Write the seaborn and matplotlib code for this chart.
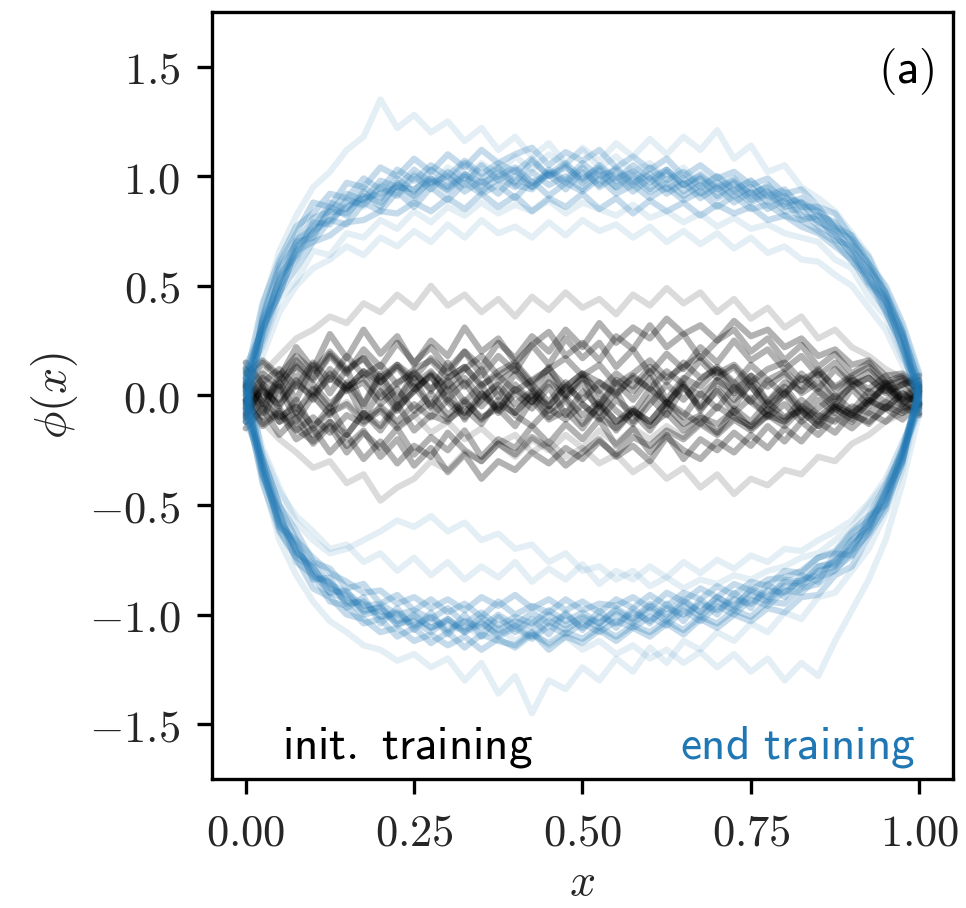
import numpy as np
import pandas as pd
import seaborn as sns
import matplotlib.pyplot as plt
from matplotlib.ticker import FuncFormatter

# grid of x positions shared by every sample path
x_grid = [0.000, 0.025, 0.050, 0.075, 0.100, 0.125, 0.150, 0.175, 0.200, 0.225,
          0.250, 0.275, 0.300, 0.325, 0.350, 0.375, 0.400, 0.425, 0.450, 0.475,
          0.500, 0.525, 0.550, 0.575, 0.600, 0.625, 0.650, 0.675, 0.700, 0.725,
          0.750, 0.775, 0.800, 0.825, 0.850, 0.875, 0.900, 0.925, 0.950, 0.975, 1.000]

# samples at the start of training (black)
init_runs = [
    [0.05, -0.08, 0.10, -0.02, 0.14, 0.01, 0.12, -0.05, 0.09, -0.03,
     0.11, 0.02, 0.15, 0.04, 0.12, -0.01, 0.10, 0.03, 0.13, 0.00,
     0.09, -0.04, 0.07, 0.02, 0.11, -0.02, 0.08, 0.04, 0.12, 0.01,
     0.09, -0.03, 0.06, 0.02, 0.10, -0.01, 0.07, 0.03, 0.09, -0.02, 0.04],
    [-0.10, 0.04, -0.12, -0.02, -0.15, -0.05, -0.18, -0.08, -0.14, -0.04,
     -0.16, -0.09, -0.12, -0.03, -0.10, -0.06, -0.14, -0.02, -0.11, -0.07,
     -0.15, -0.04, -0.12, -0.08, -0.16, -0.05, -0.13, -0.09, -0.17, -0.06,
     -0.12, -0.03, -0.10, -0.07, -0.14, -0.05, -0.09, -0.12, -0.06, -0.11, -0.03],
    [0.03, 0.10, 0.18, 0.26, 0.30, 0.36, 0.33, 0.42, 0.38, 0.46,
     0.40, 0.50, 0.41, 0.46, 0.38, 0.44, 0.36, 0.45, 0.39, 0.47,
     0.40, 0.44, 0.37, 0.46, 0.41, 0.49, 0.42, 0.47, 0.38, 0.44,
     0.35, 0.40, 0.31, 0.36, 0.26, 0.30, 0.22, 0.18, 0.12, 0.08, 0.02],
    [-0.05, -0.12, -0.20, -0.26, -0.33, -0.30, -0.40, -0.36, -0.48, -0.42,
     -0.38, -0.30, -0.34, -0.26, -0.30, -0.22, -0.28, -0.20, -0.25, -0.18,
     -0.24, -0.16, -0.22, -0.15, -0.20, -0.14, -0.19, -0.12, -0.17, -0.10,
     -0.14, -0.08, -0.12, -0.06, -0.10, -0.04, -0.08, -0.03, -0.06, -0.02, 0.01],
    [0.08, -0.02, 0.04, -0.06, 0.00, -0.08, -0.03, -0.10, -0.06, -0.14,
     -0.09, -0.17, -0.12, -0.20, -0.15, -0.22, -0.18, -0.26, -0.21, -0.28,
     -0.24, -0.31, -0.27, -0.35, -0.30, -0.38, -0.33, -0.42, -0.36, -0.45,
     -0.38, -0.41, -0.34, -0.36, -0.28, -0.30, -0.22, -0.18, -0.12, -0.08, 0.03],
    [-0.03, 0.08, 0.02, 0.14, 0.07, 0.18, 0.10, 0.21, 0.13, 0.24,
     0.15, 0.22, 0.12, 0.20, 0.09, 0.18, 0.11, 0.23, 0.14, 0.26,
     0.17, 0.24, 0.13, 0.21, 0.10, 0.19, 0.12, 0.22, 0.15, 0.25,
     0.16, 0.21, 0.12, 0.18, 0.09, 0.15, 0.06, 0.11, 0.04, 0.07, -0.01],
    [0.12, -0.04, 0.06, -0.08, 0.03, -0.06, 0.05, -0.10, 0.02, -0.07,
     0.04, -0.05, 0.07, -0.03, 0.05, -0.08, 0.01, -0.06, 0.04, -0.09,
     0.02, -0.05, 0.06, -0.02, 0.08, -0.04, 0.05, -0.07, 0.03, -0.05,
     0.06, -0.03, 0.04, -0.06, 0.02, -0.04, 0.05, -0.02, 0.03, -0.05, -0.06],
    [-0.15, -0.06, -0.18, -0.10, -0.22, -0.14, -0.26, -0.17, -0.24, -0.15,
     -0.27, -0.19, -0.25, -0.16, -0.28, -0.20, -0.24, -0.14, -0.22, -0.13,
     -0.20, -0.11, -0.23, -0.15, -0.26, -0.18, -0.29, -0.20, -0.25, -0.17,
     -0.23, -0.14, -0.21, -0.12, -0.18, -0.10, -0.15, -0.08, -0.12, -0.05, -0.09],
    [0.00, 0.10, 0.04, 0.16, 0.08, 0.19, 0.11, 0.17, 0.06, 0.13,
     0.03, 0.09, -0.02, 0.06, -0.05, 0.03, -0.08, 0.00, -0.10, -0.02,
     -0.13, -0.05, -0.16, -0.07, -0.12, -0.03, -0.10, 0.01, -0.06, 0.04,
     -0.03, 0.07, 0.00, 0.10, 0.03, 0.12, 0.05, 0.08, 0.02, 0.05, 0.07],
    [-0.06, 0.02, -0.04, 0.05, 0.00, 0.08, 0.03, 0.11, 0.06, 0.14,
     0.08, 0.17, 0.10, 0.20, 0.13, 0.24, 0.17, 0.27, 0.20, 0.30,
     0.22, 0.33, 0.24, 0.31, 0.26, 0.35, 0.28, 0.32, 0.25, 0.34,
     0.27, 0.30, 0.22, 0.26, 0.18, 0.21, 0.14, 0.16, 0.09, 0.10, 0.04],
    [0.04, -0.05, -0.12, -0.08, -0.18, -0.12, -0.23, -0.16, -0.28, -0.20,
     -0.32, -0.24, -0.35, -0.27, -0.38, -0.30, -0.34, -0.26, -0.31, -0.24,
     -0.29, -0.21, -0.27, -0.19, -0.23, -0.16, -0.20, -0.13, -0.18, -0.11,
     -0.16, -0.09, -0.14, -0.06, -0.12, -0.05, -0.09, -0.02, -0.06, 0.01, -0.04],
    [-0.09, 0.05, -0.02, 0.09, 0.01, 0.12, 0.04, 0.08, -0.01, 0.06,
     0.10, 0.03, 0.08, 0.13, 0.05, 0.09, 0.02, 0.07, 0.12, 0.04,
     0.10, 0.06, 0.01, 0.08, 0.03, 0.11, 0.05, 0.00, 0.07, 0.02,
     0.09, 0.04, 0.10, 0.01, 0.06, -0.02, 0.04, 0.08, 0.01, 0.05, 0.09],
    [0.02, -0.10, 0.04, -0.12, 0.00, -0.09, 0.06, -0.04, 0.10, -0.02,
     0.08, -0.06, 0.03, -0.11, 0.01, -0.07, 0.05, -0.03, 0.09, -0.01,
     0.06, -0.08, 0.02, -0.12, -0.01, -0.09, 0.04, -0.05, 0.07, -0.02,
     0.05, -0.07, 0.01, -0.10, -0.02, -0.08, 0.03, -0.05, 0.06, -0.03, 0.00],
    [-0.04, 0.06, 0.12, 0.04, 0.15, 0.07, 0.18, 0.09, 0.14, 0.05,
     0.12, 0.16, 0.08, 0.13, 0.04, 0.11, 0.15, 0.06, 0.12, 0.17,
     0.09, 0.14, 0.05, 0.10, 0.16, 0.08, 0.13, 0.18, 0.10, 0.14,
     0.06, 0.12, 0.15, 0.07, 0.11, 0.04, 0.09, 0.13, 0.05, 0.08, 0.03],
    [0.06, -0.03, -0.10, -0.05, -0.14, -0.08, -0.04, -0.12, -0.07, -0.15,
     -0.09, -0.03, -0.11, -0.06, -0.13, -0.02, -0.09, -0.14, -0.06, -0.11,
     -0.04, -0.10, -0.15, -0.07, -0.12, -0.03, -0.08, -0.13, -0.05, -0.10,
     -0.14, -0.06, -0.11, -0.02, -0.09, -0.12, -0.05, -0.08, -0.03, -0.07, 0.02],
    [-0.12, -0.02, 0.07, 0.13, 0.05, -0.04, 0.03, 0.11, 0.04, -0.06,
     0.02, 0.09, -0.03, -0.10, -0.02, 0.06, 0.12, 0.03, -0.05, 0.04,
     0.10, 0.01, -0.07, -0.13, -0.04, 0.05, -0.02, 0.07, 0.13, 0.06,
     -0.03, -0.09, 0.01, 0.08, 0.02, -0.06, -0.11, -0.03, 0.04, -0.02, -0.08],
    [-0.02, -0.14, -0.08, -0.16, -0.10, -0.17, -0.09, -0.13, -0.05, -0.12,
     -0.04, -0.10, -0.02, -0.08, 0.01, -0.06, 0.03, -0.03, 0.06, 0.00,
     0.08, 0.02, 0.10, 0.04, 0.13, 0.06, 0.15, 0.08, 0.12, 0.05,
     0.14, 0.07, 0.11, 0.04, 0.12, 0.03, 0.08, 0.01, 0.06, -0.01, 0.05],
    [0.10, 0.16, 0.09, 0.18, 0.11, 0.20, 0.12, 0.17, 0.08, 0.14,
     0.05, 0.11, 0.02, 0.08, -0.01, 0.05, -0.04, 0.02, -0.07, -0.01,
     -0.09, -0.03, -0.12, -0.06, -0.14, -0.08, -0.16, -0.10, -0.13, -0.07,
     -0.15, -0.09, -0.12, -0.05, -0.10, -0.04, -0.08, -0.02, -0.06, 0.01, -0.04],
    [0.15, 0.05, -0.06, -0.15, -0.21, -0.12, -0.18, -0.08, -0.16, -0.05,
     0.02, 0.10, 0.04, 0.12, 0.18, 0.09, 0.14, 0.05, -0.03, 0.06,
     -0.04, -0.11, -0.02, -0.08, 0.03, -0.05, 0.07, 0.16, 0.08, 0.13,
     0.04, -0.05, 0.02, -0.07, -0.14, -0.06, -0.12, -0.03, 0.05, -0.04, 0.01],
    [-0.08, 0.03, -0.05, 0.07, -0.02, 0.10, 0.02, 0.06, -0.04, 0.03,
     -0.07, 0.01, -0.09, -0.02, -0.11, -0.04, -0.08, 0.01, -0.05, 0.04,
     -0.02, 0.06, 0.00, 0.09, 0.03, -0.03, 0.04, -0.06, 0.02, -0.08,
     -0.01, -0.10, -0.04, -0.12, -0.06, 0.00, -0.07, 0.02, -0.03, 0.05, -0.05],
    [0.04, 0.15, 0.08, 0.22, 0.12, 0.28, 0.17, 0.30, 0.19, 0.27,
     0.14, 0.25, 0.18, 0.31, 0.20, 0.26, 0.15, 0.23, 0.29, 0.18,
     0.24, 0.16, 0.27, 0.21, 0.32, 0.22, 0.28, 0.17, 0.25, 0.30,
     0.20, 0.26, 0.16, 0.23, 0.13, 0.19, 0.10, 0.15, 0.06, 0.09, 0.02],
    [-0.02, -0.13, -0.07, -0.20, -0.15, -0.26, -0.18, -0.29, -0.21, -0.31,
     -0.23, -0.28, -0.17, -0.25, -0.30, -0.22, -0.27, -0.19, -0.24, -0.32,
     -0.26, -0.20, -0.28, -0.23, -0.30, -0.19, -0.25, -0.29, -0.21, -0.26,
     -0.18, -0.24, -0.15, -0.21, -0.12, -0.17, -0.08, -0.13, -0.05, -0.08, -0.04],
]

# samples at the end of training (blue), upper and lower branches
end_runs = [
    [0.05, 0.33, 0.49, 0.70, 0.72, 0.86, 0.82, 0.93, 0.86, 0.97,
     0.90, 0.99, 0.93, 1.01, 0.95, 1.03, 0.96, 0.94, 1.02, 0.97,
     1.04, 0.95, 1.00, 0.93, 0.99, 0.92, 0.97, 0.90, 0.95, 0.88,
     0.93, 0.85, 0.89, 0.80, 0.82, 0.71, 0.68, 0.52, 0.45, 0.21, 0.03],
    [-0.08, 0.36, 0.60, 0.74, 0.88, 0.86, 0.97, 0.95, 1.04, 1.00,
     1.08, 1.02, 1.10, 1.04, 1.12, 1.06, 1.10, 1.13, 1.05, 1.11,
     1.07, 1.12, 1.04, 1.09, 1.03, 1.08, 1.00, 1.05, 0.99, 1.02,
     0.96, 0.99, 0.92, 0.94, 0.86, 0.83, 0.72, 0.63, 0.46, 0.29, -0.04],
    [0.10, 0.22, 0.44, 0.52, 0.66, 0.64, 0.74, 0.72, 0.80, 0.76,
     0.84, 0.79, 0.86, 0.82, 0.88, 0.83, 0.87, 0.84, 0.89, 0.83,
     0.88, 0.85, 0.82, 0.87, 0.81, 0.84, 0.79, 0.83, 0.77, 0.81,
     0.76, 0.78, 0.74, 0.72, 0.70, 0.62, 0.58, 0.45, 0.36, 0.17, 0.06],
    [0.02, 0.40, 0.66, 0.82, 0.95, 1.02, 1.12, 1.18, 1.35, 1.22,
     1.28, 1.20, 1.25, 1.16, 1.22, 1.12, 1.18, 1.09, 1.15, 1.06,
     1.12, 1.04, 1.09, 1.02, 1.06, 0.98, 1.04, 0.96, 1.00, 0.93,
     0.98, 0.90, 0.93, 0.86, 0.84, 0.78, 0.70, 0.58, 0.47, 0.26, 0.01],
    [-0.05, 0.18, 0.38, 0.50, 0.58, 0.62, 0.68, 0.64, 0.72, 0.68,
     0.75, 0.70, 0.78, 0.72, 0.80, 0.74, 0.77, 0.72, 0.79, 0.73,
     0.80, 0.75, 0.78, 0.72, 0.77, 0.70, 0.75, 0.69, 0.74, 0.67,
     0.72, 0.65, 0.68, 0.62, 0.61, 0.55, 0.50, 0.40, 0.30, 0.14, -0.02],
    [0.12, 0.26, 0.50, 0.62, 0.78, 0.80, 0.90, 0.86, 0.96, 0.92,
     1.01, 0.96, 1.04, 0.99, 1.06, 1.01, 1.09, 1.03, 1.10, 1.05,
     1.13, 1.07, 1.15, 1.09, 1.17, 1.10, 1.18, 1.12, 1.21, 1.08,
     1.14, 1.02, 1.05, 0.95, 0.90, 0.84, 0.74, 0.64, 0.48, 0.31, 0.08],
    [-0.12, 0.30, 0.47, 0.66, 0.70, 0.80, 0.78, 0.88, 0.84, 0.93,
     0.86, 0.95, 0.89, 0.97, 0.92, 0.96, 0.90, 0.98, 0.91, 0.97,
     0.93, 0.99, 0.92, 0.96, 0.90, 0.95, 0.89, 0.93, 0.86, 0.91,
     0.85, 0.87, 0.82, 0.80, 0.75, 0.70, 0.61, 0.54, 0.38, 0.23, -0.06],
    [0.07, 0.42, 0.62, 0.77, 0.83, 0.92, 0.90, 0.99, 0.94, 1.03,
     0.98, 1.05, 1.00, 1.07, 1.01, 1.06, 1.02, 1.08, 1.00, 1.04,
     0.98, 1.05, 0.99, 1.02, 0.97, 1.03, 0.96, 1.00, 0.94, 0.98,
     0.92, 0.95, 0.90, 0.88, 0.84, 0.77, 0.73, 0.60, 0.50, 0.33, 0.10],
    [-0.03, 0.28, 0.55, 0.64, 0.79, 0.78, 0.89, 0.87, 0.95, 0.91,
     1.00, 0.94, 1.02, 0.96, 1.05, 0.98, 1.03, 0.95, 1.01, 0.94,
     1.02, 0.96, 1.04, 0.97, 1.01, 0.94, 0.99, 0.92, 0.97, 0.91,
     0.95, 0.88, 0.91, 0.82, 0.80, 0.74, 0.64, 0.55, 0.40, 0.26, -0.02],
    [0.08, 0.31, 0.46, 0.68, 0.74, 0.84, 0.83, 0.91, 0.88, 0.96,
     0.91, 0.98, 0.94, 1.00, 0.93, 0.99, 0.95, 1.02, 0.96, 1.00,
     0.94, 1.01, 0.95, 0.99, 0.93, 0.97, 0.91, 0.96, 0.90, 0.94,
     0.88, 0.92, 0.84, 0.85, 0.77, 0.73, 0.65, 0.51, 0.43, 0.22, 0.04],
    [0.00, 0.34, 0.52, 0.71, 0.76, 0.88, 0.85, 0.95, 0.90, 0.99,
     0.93, 1.03, 0.97, 1.06, 0.99, 1.04, 0.97, 1.07, 1.00, 1.05,
     0.97, 1.03, 0.95, 1.01, 0.94, 1.02, 0.93, 0.99, 0.91, 0.97,
     0.89, 0.93, 0.86, 0.88, 0.79, 0.76, 0.66, 0.57, 0.43, 0.27, 0.02],
    [0.04, 0.25, 0.47, 0.58, 0.70, 0.73, 0.79, 0.80, 0.84, 0.83,
     0.88, 0.84, 0.90, 0.85, 0.92, 0.86, 0.91, 0.84, 0.90, 0.86,
     0.92, 0.85, 0.90, 0.83, 0.89, 0.84, 0.88, 0.82, 0.87, 0.83,
     0.86, 0.80, 0.82, 0.77, 0.74, 0.68, 0.62, 0.50, 0.39, 0.20, -0.03],
    [-0.06, 0.35, 0.58, 0.69, 0.81, 0.84, 0.92, 0.89, 0.98, 0.95,
     1.03, 0.97, 1.00, 0.93, 0.98, 0.92, 1.00, 0.95, 1.03, 0.98,
     1.06, 1.00, 1.03, 0.96, 1.04, 0.98, 1.02, 0.95, 1.00, 0.94,
     0.98, 0.91, 0.94, 0.86, 0.86, 0.76, 0.71, 0.58, 0.47, 0.29, 0.05],
    [0.13, 0.30, 0.53, 0.63, 0.75, 0.80, 0.86, 0.90, 0.92, 0.95,
     0.94, 0.99, 0.95, 1.01, 0.97, 1.00, 1.04, 0.97, 1.01, 1.06,
     0.99, 1.04, 0.98, 1.05, 0.99, 1.03, 0.96, 1.01, 0.95, 0.99,
     0.91, 0.96, 0.87, 0.90, 0.82, 0.79, 0.69, 0.60, 0.44, 0.28, 0.06],
    [-0.04, -0.30, -0.60, -0.66, -0.84, -0.83, -0.97, -0.92, -1.04, -0.97,
     -1.07, -0.99, -1.09, -1.00, -1.10, -1.01, -1.08, -1.02, -1.09, -0.99,
     -1.07, -0.98, -1.06, -0.97, -1.04, -0.95, -1.03, -0.93, -1.00, -0.90,
     -0.97, -0.86, -0.92, -0.82, -0.85, -0.72, -0.73, -0.55, -0.50, -0.25, 0.03],
    [0.06, -0.38, -0.66, -0.82, -0.94, -1.03, -1.08, -1.14, -1.16, -1.21,
     -1.18, -1.24, -1.20, -1.30, -1.22, -1.36, -1.28, -1.45, -1.30, -1.34,
     -1.24, -1.30, -1.20, -1.26, -1.15, -1.22, -1.12, -1.16, -1.08, -1.12,
     -1.04, -1.08, -0.99, -1.02, -0.92, -0.90, -0.80, -0.70, -0.54, -0.34, -0.02],
    [-0.10, -0.26, -0.44, -0.55, -0.62, -0.70, -0.68, -0.76, -0.72, -0.80,
     -0.74, -0.82, -0.76, -0.84, -0.78, -0.83, -0.76, -0.85, -0.79, -0.84,
     -0.77, -0.86, -0.80, -0.84, -0.78, -0.83, -0.76, -0.81, -0.75, -0.79,
     -0.73, -0.76, -0.70, -0.71, -0.66, -0.62, -0.57, -0.49, -0.38, -0.22, -0.05],
    [0.02, -0.36, -0.54, -0.76, -0.82, -0.94, -0.96, -1.04, -1.02, -1.10,
     -1.06, -1.13, -1.08, -1.15, -1.09, -1.12, -1.14, -1.08, -1.16, -1.10,
     -1.13, -1.07, -1.12, -1.06, -1.10, -1.04, -1.09, -1.02, -1.06, -1.00,
     -1.03, -0.97, -0.99, -0.92, -0.91, -0.82, -0.78, -0.64, -0.52, -0.30, 0.05],
    [0.11, -0.28, -0.50, -0.62, -0.76, -0.79, -0.88, -0.86, -0.95, -0.91,
     -0.98, -0.93, -0.99, -0.95, -1.01, -0.94, -1.00, -0.96, -0.99, -0.93,
     -0.98, -0.95, -0.96, -0.92, -0.97, -0.90, -0.94, -0.88, -0.92, -0.86,
     -0.89, -0.84, -0.83, -0.80, -0.74, -0.71, -0.62, -0.55, -0.41, -0.26, 0.02],
    [-0.07, -0.34, -0.58, -0.70, -0.82, -0.86, -0.94, -0.95, -1.01, -1.00,
     -1.06, -1.03, -1.08, -1.05, -1.10, -1.06, -1.12, -1.08, -1.14, -1.10,
     -1.16, -1.12, -1.18, -1.14, -1.20, -1.16, -1.22, -1.17, -1.24, -1.18,
     -1.26, -1.20, -1.30, -1.22, -1.28, -1.12, -0.98, -0.84, -0.66, -0.40, -0.08],
    [0.04, -0.24, -0.42, -0.58, -0.66, -0.72, -0.70, -0.66, -0.62, -0.57,
     -0.60, -0.55, -0.62, -0.58, -0.66, -0.63, -0.70, -0.68, -0.76, -0.72,
     -0.80, -0.78, -0.84, -0.80, -0.87, -0.83, -0.88, -0.84, -0.86, -0.82,
     -0.84, -0.80, -0.78, -0.74, -0.72, -0.66, -0.60, -0.50, -0.40, -0.21, -0.04],
    [-0.02, -0.40, -0.62, -0.74, -0.78, -0.90, -0.89, -0.99, -0.96, -1.05,
     -1.00, -1.06, -1.02, -1.08, -1.01, -1.07, -1.03, -1.06, -1.00, -1.05,
     -1.01, -1.04, -0.98, -1.03, -0.96, -1.02, -0.94, -0.99, -0.92, -0.96,
     -0.89, -0.93, -0.85, -0.86, -0.78, -0.77, -0.66, -0.60, -0.44, -0.30, -0.01],
    [0.03, -0.32, -0.55, -0.71, -0.79, -0.88, -0.91, -0.98, -0.97, -1.03,
     -1.01, -1.06, -1.03, -1.08, -1.04, -1.09, -1.05, -1.10, -1.03, -1.07,
     -1.02, -1.06, -1.00, -1.04, -0.98, -1.03, -0.96, -1.01, -0.94, -0.98,
     -0.91, -0.94, -0.87, -0.87, -0.80, -0.78, -0.68, -0.61, -0.45, -0.28, 0.01],
    [-0.06, -0.37, -0.57, -0.68, -0.83, -0.85, -0.95, -0.94, -1.01, -0.99,
     -1.05, -1.01, -1.07, -1.03, -1.06, -1.00, -1.05, -0.99, -1.04, -1.00,
     -1.06, -1.01, -1.04, -0.99, -1.03, -0.97, -1.00, -0.95, -0.98, -0.93,
     -0.95, -0.89, -0.90, -0.84, -0.82, -0.75, -0.70, -0.58, -0.47, -0.27, -0.03],
    [0.08, -0.33, -0.61, -0.74, -0.88, -0.92, -1.00, -1.02, -1.08, -1.06,
     -1.12, -1.09, -1.14, -1.10, -1.16, -1.11, -1.15, -1.09, -1.13, -1.08,
     -1.11, -1.06, -1.10, -1.05, -1.08, -1.03, -1.07, -1.01, -1.04, -0.98,
     -1.01, -0.94, -0.95, -0.88, -0.86, -0.79, -0.73, -0.62, -0.50, -0.31, 0.04],
    [-0.09, -0.29, -0.50, -0.66, -0.74, -0.81, -0.85, -0.90, -0.89, -0.95,
     -0.92, -0.97, -0.93, -0.98, -0.92, -0.96, -0.91, -0.97, -0.93, -0.98,
     -0.94, -0.99, -0.93, -0.97, -0.91, -0.96, -0.90, -0.93, -0.87, -0.91,
     -0.85, -0.87, -0.80, -0.81, -0.74, -0.72, -0.63, -0.57, -0.43, -0.24, 0.00],
    [0.01, -0.35, -0.59, -0.69, -0.81, -0.90, -0.93, -1.00, -0.98, -1.04,
     -1.03, -1.08, -1.02, -1.07, -1.03, -1.10, -1.06, -1.11, -1.05, -1.09,
     -1.04, -1.08, -1.03, -1.06, -1.01, -1.05, -0.98, -1.03, -0.96, -1.00,
     -0.93, -0.96, -0.89, -0.90, -0.83, -0.80, -0.71, -0.63, -0.48, -0.29, 0.06],
    [-0.11, -0.31, -0.53, -0.72, -0.77, -0.86, -0.90, -0.96, -0.95, -1.00,
     -0.98, -1.02, -0.97, -1.04, -0.99, -1.05, -1.01, -1.04, -0.98, -1.03,
     -0.99, -1.04, -0.97, -1.02, -0.95, -1.00, -0.93, -0.99, -0.92, -0.97,
     -0.88, -0.92, -0.84, -0.85, -0.78, -0.76, -0.66, -0.59, -0.44, -0.25, -0.07],
]

# stray paths that sit outside the dense bands, drawn lighter
init_stray = [2, 3, 4]
end_stray = [2, 3, 4, 5, 15, 16, 19, 20]

y_ticks = [-1.5, -1.0, -0.5, 0.0, 0.5, 1.0, 1.5]
x_ticks = [0.00, 0.25, 0.50, 0.75, 1.00]


def to_long(runs, stray):
    rows = []
    for k, run in enumerate(runs):
        assert len(run) == len(x_grid)
        for xv, yv in zip(x_grid, run):
            rows.append({"x": xv, "phi": yv, "run": k, "stray": k in stray})
    return pd.DataFrame(rows)


df_init = to_long(init_runs, init_stray)
df_end = to_long(end_runs, end_stray)

sns.set_theme(style="ticks")
plt.rcParams["mathtext.fontset"] = "cm"

fig = plt.figure(figsize=(9.66, 9.08), dpi=100)
ax = fig.add_axes([0.2195, 0.142, 0.767, 0.845])

for df, col, a_core, a_stray in [(df_init, "black", 0.3, 0.14),
                                 (df_end, "#1f77b4", 0.26, 0.12)]:
    sns.lineplot(data=df[df.stray], x="x", y="phi", units="run", estimator=None,
                 color=col, alpha=a_stray, lw=4.5, ax=ax)
    sns.lineplot(data=df[~df.stray], x="x", y="phi", units="run", estimator=None,
                 color=col, alpha=a_core, lw=4.5, ax=ax)

ax.set_xlim(-0.05, 1.05)
ax.set_ylim(-1.75, 1.75)
ax.set_xticks(x_ticks)
ax.set_yticks(y_ticks)
ax.xaxis.set_major_formatter(FuncFormatter(lambda v, p: f"${v:.2f}$"))
ax.yaxis.set_major_formatter(FuncFormatter(lambda v, p: f"${v:.1f}$"))
ax.tick_params(labelsize=32, length=11, width=2.4, pad=12, color="black")
for s in ax.spines.values():
    s.set_linewidth(2.4)
    s.set_color("black")

ax.set_xlabel(r"$x$", fontsize=33, labelpad=4)
ax.set_ylabel(r"$\phi(x)$", fontsize=33, labelpad=6)

ax.text(0.094, 0.027, r"$\mathsf{init.\ training}$", transform=ax.transAxes,
        fontsize=34, color="black", ha="left", va="baseline")
ax.text(0.949, 0.027, r"$\mathsf{end\ training}$", transform=ax.transAxes,
        fontsize=34, color="#1f77b4", ha="right", va="baseline")
ax.text(0.976, 0.955, r"$\mathsf{(a)}$", transform=ax.transAxes,
        fontsize=34, color="black", ha="right", va="top")

fig.savefig("out.png", dpi=100)
